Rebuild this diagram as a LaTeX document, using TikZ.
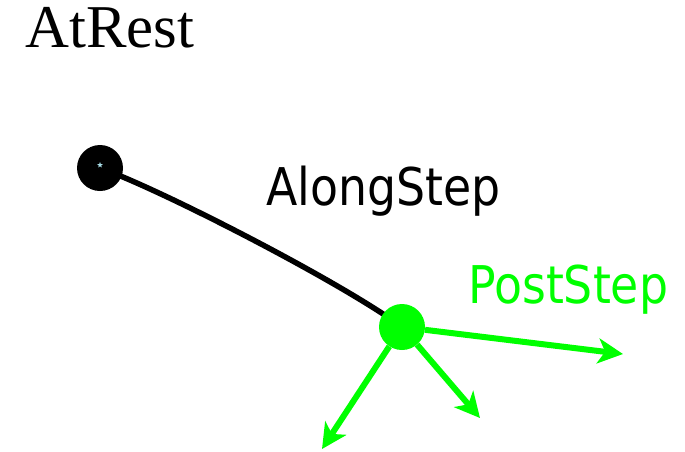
\documentclass[tikz,border=0pt]{standalone}
\usepackage{fontspec}
\usetikzlibrary{arrows.meta,shapes.geometric}
\setmainfont{Liberation Serif}
\newfontfamily\tahfont[FakeStretch=0.88]{DejaVu Sans}
\definecolor{vivgreen}{HTML}{00FF00}
\definecolor{starblue}{HTML}{A8DCE6}
\tikzset{
  dotnode/.style={circle,inner sep=0pt,minimum size=46pt},
  track/.style={line width=5.5pt,draw=black},
  secondary/.style={line width=6pt,draw=vivgreen,-{Stealth[length=25pt,width=25pt,inset=7pt]}},
  lbl/.style={inner sep=0pt,anchor=base west},
}
\begin{document}
\begin{tikzpicture}[x=1pt,y=-1pt]
\useasboundingbox (0,0) rectangle (685,451);
\node[lbl,font=\fontsize{60.8}{60.8}\selectfont] (atrest) at (25,47) {AtRest};
\node[lbl,font=\tahfont\fontsize{52}{52}\selectfont] (along) at (266,205) {AlongStep};
\node[lbl,font=\tahfont\fontsize{52}{52}\selectfont,text=vivgreen] (post) at (468,303) {PostStep};
\coordinate (a0) at (100,168);
\coordinate (g0) at (402,327);
\draw[track] (a0) .. controls (160,189) and (342,282.6) .. (g0);
\node[dotnode,fill=black] (a) at (a0) {};
\node[star,star points=5,star point ratio=2.4,fill=starblue,inner sep=0pt,minimum size=6pt] (st) at (100,165) {};
\node[dotnode,fill=vivgreen] (g) at (g0) {};
\coordinate (t1) at (623,354);
\coordinate (t2) at (480,418);
\coordinate (t3) at (322,449);
\draw[secondary] (g) -- (t1);
\draw[secondary] (g) -- (t2);
\draw[secondary] (g) -- (t3);
\end{tikzpicture}
\end{document}
